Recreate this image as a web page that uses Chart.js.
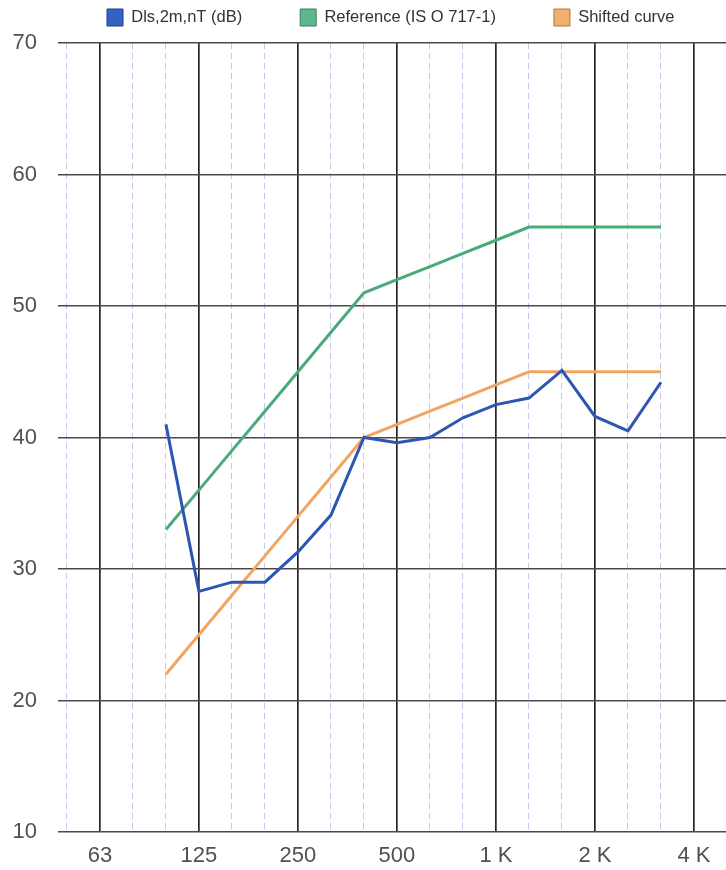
<!DOCTYPE html>
<html>
<head>
<meta charset="utf-8">
<title>Dls,2m,nT</title>
<script src="https://cdn.jsdelivr.net/npm/chart.js@4/dist/chart.umd.min.js"></script>
<style>
  html, body { margin: 0; padding: 0; background: #ffffff; }
  #wrap { width: 726px; height: 870px; }
</style>
</head>
<body>
<div id="wrap"><canvas id="chart" width="726" height="870"></canvas></div>
<script>
// One-third-octave bands shown on the frequency axis (Hz)
const bands = [50, 63, 80, 100, 125, 160, 200, 250, 315, 400, 500, 630, 800, 1000, 1250, 1600, 2000, 2500, 3150, 4000];
// Octave band labels printed under the axis
const octaveLabels = { 63: '63', 125: '125', 250: '250', 500: '500', 1000: '1 K', 2000: '2 K', 4000: '4 K' };
// Bands with measured values (100 Hz - 3150 Hz)
const measuredBands = [100, 125, 160, 200, 250, 315, 400, 500, 630, 800, 1000, 1250, 1600, 2000, 2500, 3150];
// Façade sound insulation, Dls,2m,nT (dB)
const measured = [41.0, 28.3, 29.0, 29.0, 31.3, 34.1, 40.0, 39.6, 40.0, 41.5, 42.5, 43.0, 45.1, 41.6, 40.5, 44.2];
// ISO 717-1 reference curve (dB)
const reference = [33, 36, 39, 42, 45, 48, 51, 52, 53, 54, 55, 56, 56, 56, 56, 56];
// Reference curve after shifting (dB)
const shifted = [22, 25, 28, 31, 34, 37, 40, 41, 42, 43, 44, 45, 45, 45, 45, 45];
// Level axis ticks (dB)
const levelTicks = [10, 20, 30, 40, 50, 60, 70];

const colors = {
  measured: '#2d55b4',
  reference: '#4aaa7c',
  shifted: '#f2a562'
};
const boxFill = ['#3461c2', '#5cb88c', '#f0b070'];
const boxEdge = ['#1d3d8c', '#3b7c5c', '#b07838'];

// band position on the x scale: 63 Hz = 0, one unit per third octave
const bandPos = f => bands.indexOf(f) - bands.indexOf(63);
const toPoints = vals => vals.map((v, i) => ({ x: bandPos(measuredBands[i]), y: v }));

const tickFont = { family: "'Liberation Sans Narrow', 'Arial Narrow', 'Liberation Sans', Arial, sans-serif", size: 22 };
const isOctave = ctx => ctx.tick && octaveLabels[bands[ctx.tick.value + 1]] !== undefined;

// places the legend row above the plot
const legendRow = {
  id: 'legendRow',
  afterLayout(chart) {
    const lg = chart.legend;
    if (!lg || !lg.lineWidths) return;
    const pad = lg.options.labels.padding;
    const startX = (lg.left + pad + lg.right - lg.lineWidths[0]) / 2;
    const dx = 107 - startX;
    lg.left += dx;
    lg.right += dx;
    lg.top = 9 - pad;
  }
};

new Chart(document.getElementById('chart'), {
  type: 'line',
  data: {
    datasets: [
      { label: 'Dls,2m,nT (dB)', data: toPoints(measured), borderColor: colors.measured, backgroundColor: colors.measured, borderWidth: 3, pointRadius: 0, tension: 0 },
      { label: 'Reference (IS O 717-1)', data: toPoints(reference), borderColor: colors.reference, backgroundColor: colors.reference, borderWidth: 3, pointRadius: 0, tension: 0 },
      { label: 'Shifted curve', data: toPoints(shifted), borderColor: colors.shifted, backgroundColor: colors.shifted, borderWidth: 3, pointRadius: 0, tension: 0 }
    ]
  },
  options: {
    responsive: false,
    animation: false,
    devicePixelRatio: 1,
    layout: { padding: 0 },
    plugins: {
      tooltip: { enabled: false },
      legend: {
        position: 'top',
        maxHeight: 43,
        labels: {
          boxWidth: 16,
          boxHeight: 17,
          padding: 58,
          color: '#333333',
          font: { family: "'Liberation Sans', Arial, sans-serif", size: 16.5 },
          generateLabels(chart) {
            const items = Chart.defaults.plugins.legend.labels.generateLabels(chart);
            items.forEach(it => {
              it.fillStyle = boxFill[it.datasetIndex];
              it.strokeStyle = boxEdge[it.datasetIndex];
              it.lineWidth = 1;
            });
            return items;
          }
        }
      }
    },
    scales: {
      x: {
        type: 'linear',
        min: -1.27,
        max: 18.97,
        afterBuildTicks(axis) {
          axis.ticks = bands.map(f => ({ value: bandPos(f) }));
        },
        afterFit(scale) { scale.height = 38; },
        ticks: {
          autoSkip: false,
          maxRotation: 0,
          padding: 11,
          color: '#505050',
          font: tickFont,
          callback: v => octaveLabels[bands[v + 1]] || ''
        },
        grid: {
          drawTicks: false,
          color: ctx => isOctave(ctx) ? '#262626' : '#c3c7ea',
          lineWidth: ctx => isOctave(ctx) ? 1.7 : 1
        },
        border: {
          display: false,
          dash: ctx => (ctx.tick && !isOctave(ctx)) ? [6, 4] : []
        }
      },
      y: {
        type: 'linear',
        min: 10,
        max: 70,
        afterBuildTicks(axis) {
          axis.ticks = levelTicks.map(v => ({ value: v }));
        },
        afterFit(scale) { scale.width = 58; },
        ticks: {
          padding: 21,
          color: '#505050',
          font: tickFont
        },
        grid: {
          drawTicks: false,
          color: '#4a4a4a',
          lineWidth: 1.6
        },
        border: { display: false }
      }
    }
  },
  plugins: [legendRow]
});
</script>
</body>
</html>
